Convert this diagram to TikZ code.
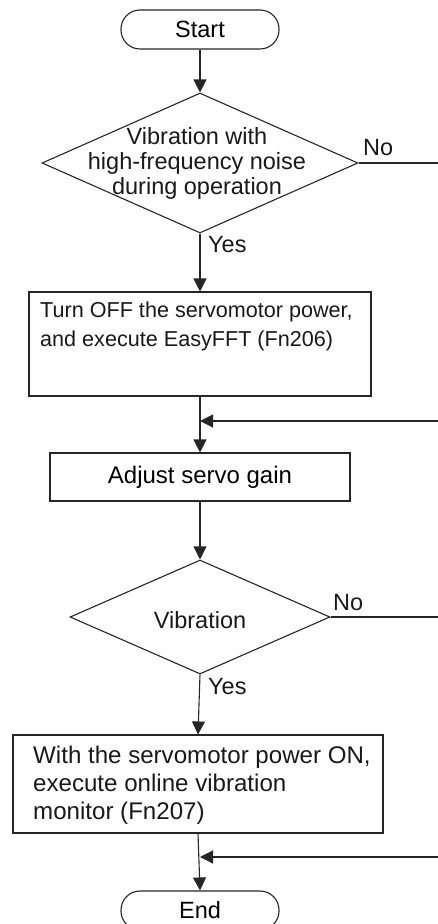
\documentclass[tikz,border=0pt]{standalone}
\usepackage{fontspec}
\setmainfont{Liberation Sans}
\usetikzlibrary{arrows.meta,shapes.geometric}
\begin{document}
\begin{tikzpicture}[x=1pt,y=-1pt,
  ln/.style={line width=1.1pt, draw=black!85},
  arr/.style={ln, -{Triangle[width=13pt,length=13pt]}},
  txt/.style={font=\fontsize{23.5}{28}\selectfont, inner sep=0pt, text=black!90},
  box/.style={ln, rectangle, inner sep=0pt},
  term/.style={ln, rectangle, rounded corners=19pt, inner sep=0pt, minimum width=158pt, minimum height=39pt, font=\fontsize{23.5}{28}\selectfont},
  dia/.style={ln, diamond, inner sep=0pt}
]
\useasboundingbox (0,0) rectangle (438,924);

\node[term] (start) at (200,29.5) {Start};
\node[dia, minimum width=316pt, minimum height=140pt] (d1) at (200,163) {};
\node[txt, align=center, font=\fontsize{23.5}{25}\selectfont] (d1t) at (197,163) {Vibration with\\high-frequency noise\\during operation};
\node[box, minimum width=342pt, minimum height=104pt] (b1) at (200,344) {};
\node[txt, align=left, anchor=north west, font=\fontsize{21.6}{29}\selectfont] (b1t) at (40,302) {Turn OFF the servomotor power,\\and execute EasyFFT (Fn206)};
\node[box, minimum width=300pt, minimum height=48pt, font=\fontsize{24}{28}\selectfont] (b2) at (200,477) {Adjust servo gain};
\node[dia, minimum width=260pt, minimum height=114pt] (d2) at (200,617) {};
\node[txt] (d2t) at (200,620) {Vibration};
\node[box, minimum width=370pt, minimum height=98pt] (b3) at (198,784) {};
\node[txt, align=left, anchor=west, font=\fontsize{24.1}{28}\selectfont] (b3t) at (33,785) {With the servomotor power ON,\\execute online vibration\\monitor (Fn207)};
\node[term] (end) at (200,910.5) {End};

\coordinate (n1) at (438,163);
\coordinate (m1r) at (438,421);
\coordinate (m1) at (200,421);
\coordinate (n2) at (438,617);
\coordinate (m2r) at (438,857);
\coordinate (m2) at (200,857);

\draw[arr] (start.south) -- (d1.north);
\draw[arr] (d1.south) -- (b1.north);
\draw[arr] (b1.south) -- (b2.north);
\draw[arr] (b2.south) -- (d2.north);
\draw[arr] (d2.south) -- (b3.north);
\draw[arr] (b3.south) -- (end.north);
\draw[ln] (d1.east) -- (n1);
\draw[arr] (m1r) -- (m1);
\draw[ln] (d2.east) -- (n2);
\draw[arr] (m2r) -- (m2);

\node[txt, anchor=west] (no1) at (363,148) {No};
\node[txt, anchor=west] (yes1) at (208,245) {Yes};
\node[txt, anchor=west] (no2) at (333,603) {No};
\node[txt, anchor=west] (yes2) at (208,687) {Yes};
\end{tikzpicture}
\end{document}
